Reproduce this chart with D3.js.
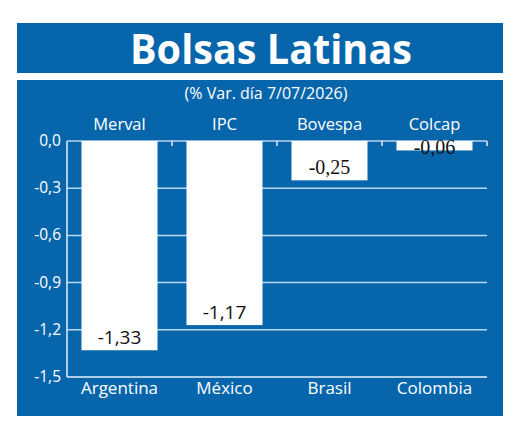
<!DOCTYPE html>
<html>
<head>
<meta charset="utf-8">
<script src="https://cdn.jsdelivr.net/npm/d3@7"></script>
<style>
  body { margin: 0; background: #fff; }
</style>
</head>
<body>
<div id="chart"></div>
<script>
var indices = ["Merval", "IPC", "Bovespa", "Colcap"];
var countries = ["Argentina", "México", "Brasil", "Colombia"];
var values = [-1.33, -1.17, -0.25, -0.06];
var yTicks = [0, -0.3, -0.6, -0.9, -1.2, -1.5];
var labelSerif = [false, false, true, true];

var blue = "#0766ab";
var fmt = function (v, d) { return v.toFixed(d).replace(".", ","); };

var svg = d3.select("#chart")
        .append("svg")
        .attr("width", 520)
        .attr("height", 433);

// title band
svg.append("rect")
        .attr("x", 17).attr("y", 23)
        .attr("width", 486).attr("height", 50)
        .attr("fill", blue);

svg.append("text")
        .attr("x", 271).attr("y", 64)
        .attr("text-anchor", "middle")
        .attr("fill", "#fff")
        .attr("font-family", "'Open Sans', sans-serif")
        .attr("font-weight", "bold")
        .attr("font-size", "41px")
        .attr("textLength", 282)
        .attr("lengthAdjust", "spacingAndGlyphs")
        .text("Bolsas Latinas");

// main panel
svg.append("rect")
        .attr("x", 17).attr("y", 80)
        .attr("width", 486).attr("height", 336)
        .attr("fill", blue);

svg.append("text")
        .attr("x", 266).attr("y", 99)
        .attr("text-anchor", "middle")
        .attr("fill", "#fff")
        .attr("font-family", "'Open Sans', sans-serif")
        .attr("font-size", "16px")
        .text("(% Var. día 7/07/2026)");

var x = d3.scaleBand()
        .domain(countries)
        .range([67, 487])
        .paddingInner(0.276)
        .paddingOuter(0.138);

var y = d3.scaleLinear()
        .domain([-1.5, 0])
        .range([377, 141]);

// grid lines
svg.append("g").selectAll("line")
        .data(yTicks)
        .enter().append("line")
        .attr("x1", 67).attr("x2", 487)
        .attr("y1", function (d) { return y(d); })
        .attr("y2", function (d) { return y(d); })
        .attr("stroke", function (d) { return d === -1.5 ? "#e6f0fa" : "#b8d6f2"; })
        .attr("stroke-width", 1.5);

// y axis line
svg.append("line")
        .attr("x1", 67).attr("x2", 67)
        .attr("y1", y(0)).attr("y2", y(-1.5))
        .attr("stroke", "#e6f0fa").attr("stroke-width", 1.5);

// ticks on zero line at band edges
var step = x.step();
svg.append("g").selectAll("line")
        .data(d3.range(1, 5))
        .enter().append("line")
        .attr("x1", function (i) { return 67 + i * step; })
        .attr("x2", function (i) { return 67 + i * step; })
        .attr("y1", y(0)).attr("y2", y(0) + 5)
        .attr("stroke", "#e6f0fa").attr("stroke-width", 1.5);

// y labels
svg.append("g").selectAll("text")
        .data(yTicks)
        .enter().append("text")
        .attr("x", 61)
        .attr("y", function (d) { return y(d) + 5; })
        .attr("text-anchor", "end")
        .attr("fill", "#fff")
        .attr("font-family", "'Open Sans', sans-serif")
        .attr("font-size", "15.5px")
        .text(function (d) { return fmt(d, 1); });

// bars
svg.append("g").selectAll("rect")
        .data(values)
        .enter().append("rect")
        .attr("x", function (d, i) { return x(countries[i]); })
        .attr("y", y(0))
        .attr("width", x.bandwidth())
        .attr("height", function (d) { return y(d) - y(0); })
        .attr("fill", "#fff");

// value labels
svg.append("g").selectAll("text")
        .data(values)
        .enter().append("text")
        .attr("x", function (d, i) { return x(countries[i]) + x.bandwidth() / 2; })
        .attr("y", function (d) { return Math.max(y(d) - 6, y(0) + 13); })
        .attr("text-anchor", "middle")
        .attr("fill", "#111")
        .attr("font-family", function (d, i) { return labelSerif[i] ? "'Liberation Serif', serif" : "'Open Sans', sans-serif"; })
        .attr("font-size", function (d, i) { return labelSerif[i] ? "20px" : "19px"; })
        .text(function (d) { return fmt(d, 2); });

// top index names
svg.append("g").selectAll("text")
        .data(indices)
        .enter().append("text")
        .attr("x", function (d, i) { return x(countries[i]) + x.bandwidth() / 2; })
        .attr("y", 130)
        .attr("text-anchor", "middle")
        .attr("fill", "#fff")
        .attr("font-family", "'Open Sans', sans-serif")
        .attr("font-size", "16.5px")
        .text(function (d) { return d; });

// bottom country names
svg.append("g").selectAll("text")
        .data(countries)
        .enter().append("text")
        .attr("x", function (d) { return x(d) + x.bandwidth() / 2; })
        .attr("y", 394)
        .attr("text-anchor", "middle")
        .attr("fill", "#fff")
        .attr("font-family", "'Open Sans', sans-serif")
        .attr("font-size", "17px")
        .text(function (d) { return d; });
</script>
</body>
</html>
